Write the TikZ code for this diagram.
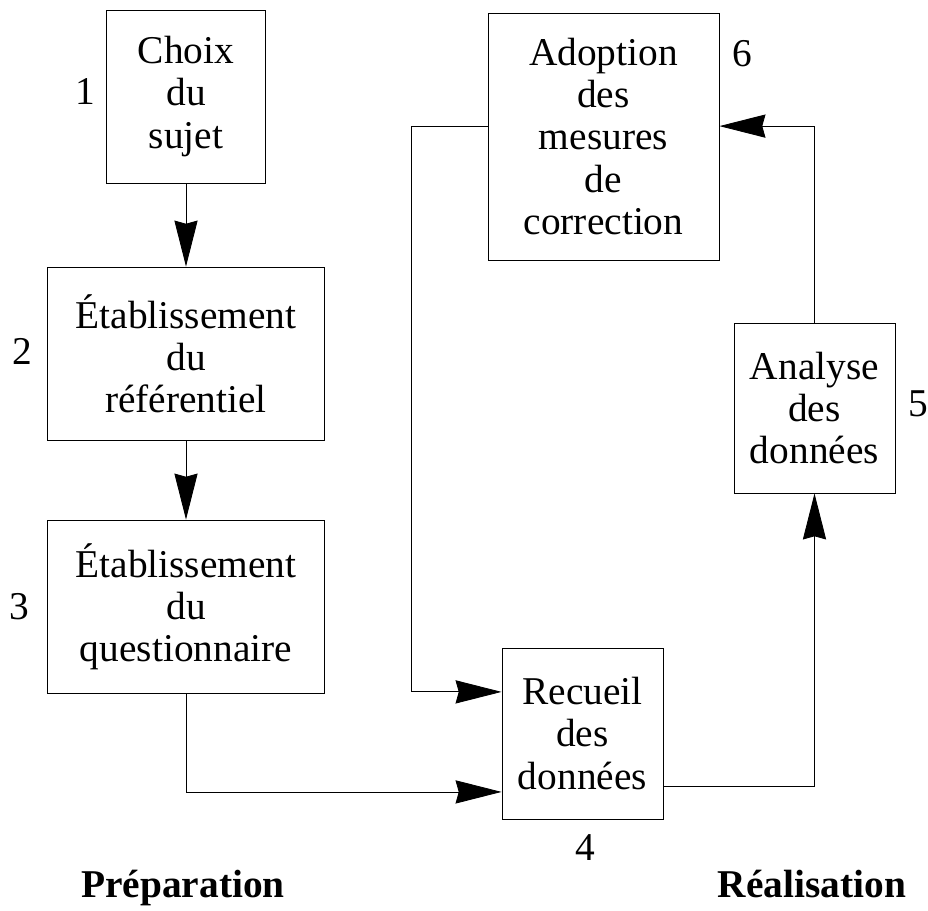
\documentclass[tikz,border=0pt]{standalone}
\usepackage{fontspec}
\setmainfont{Liberation Serif}
\usetikzlibrary{arrows.meta}

\tikzset{
  etape/.style={draw, line width=0.6pt, align=center, inner sep=0pt,
    font=\fontsize{28}{30}\selectfont},
  num/.style={font=\fontsize{28}{30}\selectfont},
  phase/.style={anchor=base, font=\fontsize{28}{30}\selectfont\bfseries},
  fleche/.style={line width=0.6pt,
    -{Stealth[length=1.15cm, width=0.58cm, inset=0.08cm]}}
}

\begin{document}
\begin{tikzpicture}[x=0.025cm, y=-0.025cm]
  \useasboundingbox (0,0) rectangle (928,910);

  % colonne de gauche : preparation
  \node[etape, minimum width=3.975cm, minimum height=4.325cm] (choix) at (186,96.5) {Choix\\du\\sujet};
  \node[etape, minimum width=6.925cm, minimum height=4.325cm] (referentiel) at (186,353.5) {Établissement\\du\\référentiel};
  \node[etape, minimum width=6.925cm, minimum height=4.325cm] (questionnaire) at (186,606.5) {Établissement\\du\\questionnaire};

  % partie droite : realisation
  \node[etape, minimum width=4.025cm, minimum height=4.275cm] (recueil) at (582.5,733.5) {Recueil\\des\\données};
  \node[etape, minimum width=4.025cm, minimum height=4.25cm] (analyse) at (814.5,408) {Analyse\\des\\données};
  \node[etape, minimum width=5.775cm, minimum height=6.175cm] (adoption) at (603.5,136.5) {Adoption\\des\\mesures\\de\\correction};

  % numeros
  \node[num] (n1) at (85,91) {1};
  \node[num] (n2) at (22,351) {2};
  \node[num] (n3) at (19,607) {3};
  \node[num] (n4) at (585,848) {4};
  \node[num] (n5) at (918,404) {5};
  \node[num] (n6) at (742,54) {6};

  \node[phase] (preparation) at (183,897) {Préparation};
  \node[phase] (realisation) at (812,897) {Réalisation};

  % fleches
  \draw[fleche] (choix) -- (referentiel);
  \draw[fleche] (referentiel) -- (questionnaire);
  \draw[fleche] (questionnaire.south) |- ([yshift=-1.46cm]recueil.west);
  \draw[fleche] ([yshift=-1.31cm]recueil.east) -| (analyse.south);
  \draw[fleche] (analyse.north) |- ([yshift=0.26cm]adoption.east);
  \draw[fleche] ([yshift=0.26cm]adoption.west) -- ++(-1.9cm,0) |- ([yshift=1.04cm]recueil.west);
\end{tikzpicture}
\end{document}
